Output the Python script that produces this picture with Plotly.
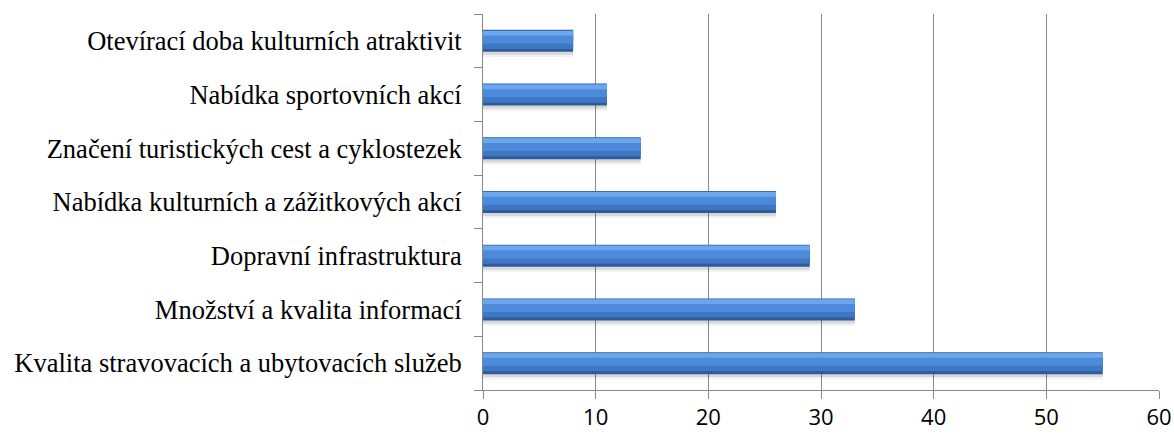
import plotly.graph_objects as go

# categories listed bottom -> top
categories = [
    'Kvalita stravovacích a ubytovacích služeb',
    'Množství a kvalita informací',
    'Dopravní infrastruktura',
    'Nabídka kulturních a zážitkových akcí',
    'Značení turistických cest a cyklostezek',
    'Nabídka sportovních akcí',
    'Otevírací doba kulturních atraktivit',
]
values = [55, 33, 29, 26, 14, 11, 8]
x_ticks = [0, 10, 20, 30, 40, 50, 60]

fig = go.Figure()

# layered stripes to fake the bevelled look of the original bars
stripes = [
    # (offset, width, colour)
    (-0.30, 0.41, 'rgba(0,0,0,0.06)'),   # soft shadow
    (-0.26, 0.41, 'rgba(0,0,0,0.10)'),
    (-0.205, 0.41, '#2d5b9b'),
    (-0.15, 0.34, '#3e77c3'),
    (-0.05, 0.24, '#4c8bd9'),
    (0.10, 0.085, '#6ba7ec'),
]
for off, w, col in stripes:
    fig.add_trace(go.Bar(
        y=categories, x=values, orientation='h',
        offset=off, width=w,
        marker=dict(color=col, line=dict(width=0)),
        showlegend=False, hoverinfo='skip',
    ))

fig.update_layout(
    barmode='overlay',
    width=1174, height=436,
    margin=dict(l=483, r=15, t=14, b=46),
    plot_bgcolor='white', paper_bgcolor='white',
    xaxis=dict(
        range=[0, 60], tickvals=x_ticks,
        automargin=False,
        showgrid=True, gridcolor='#888888', gridwidth=1,
        showline=True, linecolor='#888888', linewidth=1,
        ticks='outside', ticklen=8, tickcolor='#888888',
        tickfont=dict(family='Open Sans', size=22, color='black'),
        zeroline=False,
    ),
    yaxis=dict(
        type='category', categoryorder='array', categoryarray=categories,
        automargin=False,
        showgrid=False,
        showline=True, linecolor='#888888', linewidth=1,
        ticks='outside', ticklen=8, tickcolor='#888888',
        tickson='boundaries',
        ticklabelstandoff=15,
        tickfont=dict(family='Liberation Serif', size=26.5, color='black'),
    ),
)

fig.write_html('out.html', config={'displayModeBar': False},
               post_script="document.body.style.margin='0';")
